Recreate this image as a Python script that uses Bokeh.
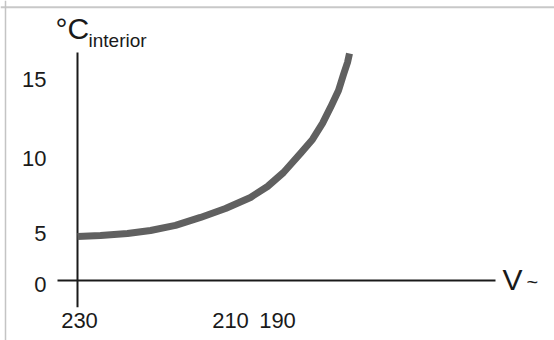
from bokeh.plotting import figure
from bokeh.models import Range1d, Span
from bokeh.core.properties import value
from bokeh.embed import file_html
from bokeh.resources import INLINE

# ---- data ----
voltage = [230.0, 225.4, 220.0, 215.4, 210.4, 205.4, 200.4, 195.4, 192.0,
           188.8, 185.4, 183.0, 181.0, 179.4, 177.8, 176.8, 176.0, 175.6]
temp_interior = [3.30, 3.38, 3.53, 3.75, 4.13, 4.73, 5.40, 6.23, 7.05,
                 8.10, 9.53, 10.58, 11.78, 12.98, 14.25, 15.45, 16.35, 17.03]
x_tick_pos = [229.6, 199.4, 190.0]
x_tick_labels = ["230", "210", "190"]
y_tick_pos = [-0.4, 3.45, 9.1, 15.0]
y_tick_labels = ["0", "5", "10", "15"]

# ---- layout constants ----
X_START, X_END = 245.4, 134.6          # reversed: voltage drops to the right
Y_START, Y_END = -4.5, 21.0
ORIGIN_X, ORIGIN_Y = 230.0, 0.0
YAXIS_BOTTOM, YAXIS_TOP = -2.0, 17.1
XAXIS_LEFT, XAXIS_RIGHT = 234.0, 146.4
BORDER_TOP, BORDER_LEFT = 20.5, 244.4
FONT = value("Liberation Sans")
INK = "#1a1a1a"

p = figure(width=554, height=340, output_backend="svg", toolbar_location=None,
           x_range=Range1d(X_START, X_END), y_range=Range1d(Y_START, Y_END),
           x_axis_location=None, y_axis_location=None,
           min_border=0, min_border_left=0, min_border_right=0,
           min_border_top=0, min_border_bottom=0)
p.grid.visible = False
p.outline_line_color = None
p.background_fill_color = "white"
p.border_fill_color = "white"

# frame border (top and left only visible)
p.add_layout(Span(location=BORDER_TOP, dimension="width",
                  line_color="#c8c8c8", line_width=2))
p.add_layout(Span(location=BORDER_LEFT, dimension="height",
                  line_color="#c4c4c4", line_width=1.5))

# axes lines
p.segment(x0=[ORIGIN_X], y0=[YAXIS_BOTTOM], x1=[ORIGIN_X], y1=[YAXIS_TOP],
          line_color=INK, line_width=2)
p.segment(x0=[XAXIS_LEFT], y0=[ORIGIN_Y], x1=[XAXIS_RIGHT], y1=[ORIGIN_Y],
          line_color=INK, line_width=2)

# curve
p.line(voltage, temp_interior, line_color="#606060", line_width=7,
       line_join="round", line_cap="butt")

# tick labels
p.text(x=[ORIGIN_X] * len(y_tick_pos), y=y_tick_pos, text=y_tick_labels,
       x_offset=-31, y_offset=-1, text_align="right", text_baseline="middle",
       text_font=FONT, text_font_size="22px", text_color=INK)
p.text(x=x_tick_pos, y=[ORIGIN_Y] * len(x_tick_pos), text=x_tick_labels,
       y_offset=40, text_align="center", text_baseline="middle",
       text_font=FONT, text_font_size="22px", text_color=INK)

# axis titles
p.text(x=[ORIGIN_X], y=[YAXIS_TOP], text=["°C"], x_offset=-22, y_offset=-24,
       text_align="left", text_baseline="middle",
       text_font=FONT, text_font_size="30px", text_color=INK)
p.text(x=[ORIGIN_X], y=[YAXIS_TOP], text=["interior"], x_offset=11, y_offset=-12,
       text_align="left", text_baseline="middle",
       text_font=FONT, text_font_size="19px", text_color=INK)
p.text(x=[XAXIS_RIGHT], y=[ORIGIN_Y], text=["V"], x_offset=7, y_offset=-1,
       text_align="left", text_baseline="middle",
       text_font=FONT, text_font_size="30px", text_color=INK)
p.text(x=[XAXIS_RIGHT], y=[ORIGIN_Y], text=["~"], x_offset=31, y_offset=1,
       text_align="left", text_baseline="middle",
       text_font=FONT, text_font_size="20px", text_color=INK)

open("out.html", "w").write(file_html(p, INLINE))
